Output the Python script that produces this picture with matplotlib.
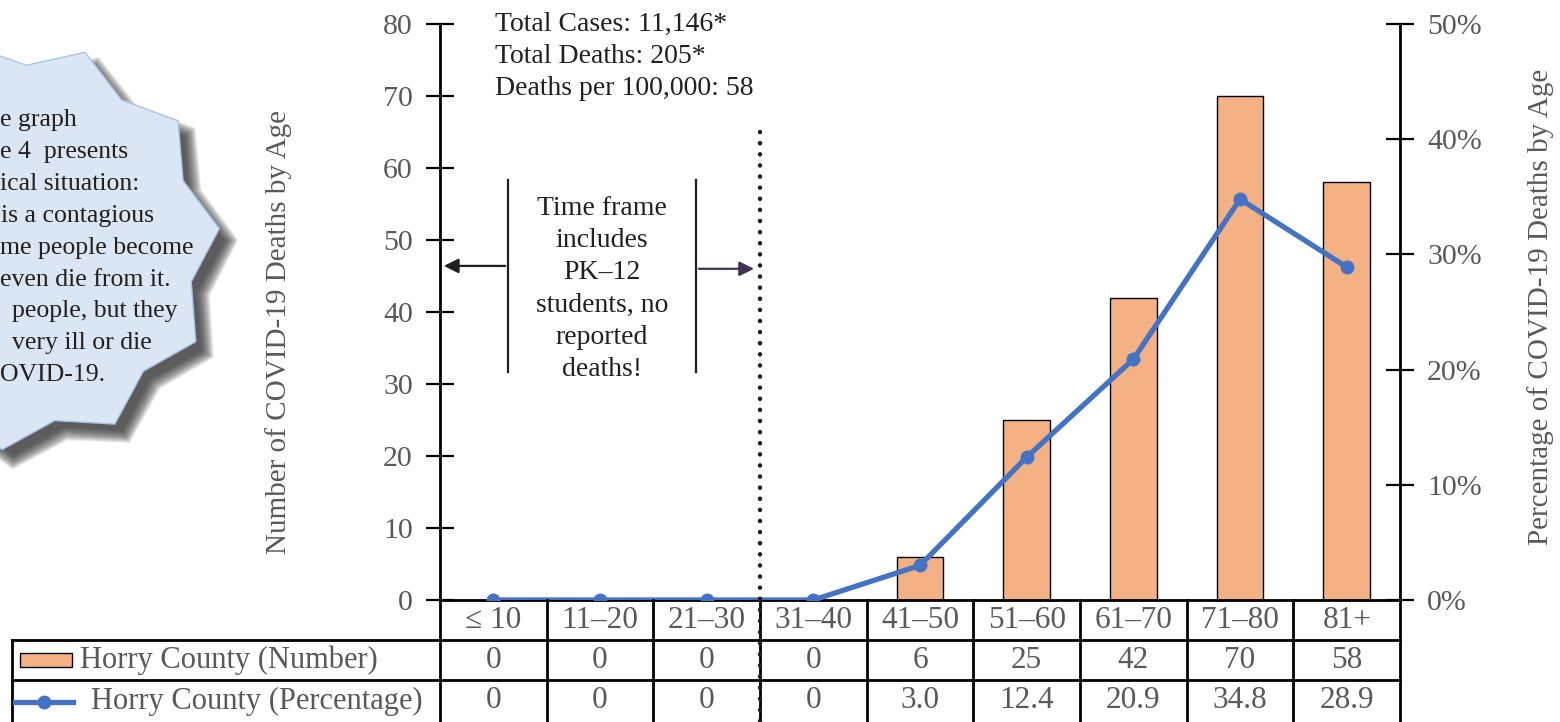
import numpy as np
import matplotlib.pyplot as plt
from matplotlib.patches import Polygon, Rectangle
from matplotlib.lines import Line2D
from matplotlib.transforms import blended_transform_factory

plt.rcParams['font.family'] = ['Liberation Serif', 'DejaVu Serif']

# data
ages = ['≤ 10', '11–20', '21–30', '31–40', '41–50', '51–60', '61–70', '71–80', '81+']
deaths = [0, 0, 0, 0, 6, 25, 42, 70, 58]
pct = [0, 0, 0, 0, 3.0, 12.4, 20.9, 34.8, 28.9]
pct_labels = ['0', '0', '0', '0', '3.0', '12.4', '20.9', '34.8', '28.9']
num_label = 'Horry County (Number)'
pct_label = 'Horry County (Percentage)'

bar_color = '#F4B183'
line_color = '#4472C4'
gray = '#595959'
ink = '#231F20'

W, H = 1560, 722
fig = plt.figure(figsize=(15.6, 7.22), dpi=100)


def fx(px):
    return px / W


def fy(py):
    return 1 - py / H


# callout burst on the left (partly off the page)
n = 11
ang = np.linspace(0, 2 * np.pi, 2 * n, endpoint=False) - 0.08
rad = np.where(np.arange(2 * n) % 2 == 0, 205, 180)
cx, cy = 15, 245
# soft shadow
for grow in range(-6, 9):
    r2 = rad + grow
    pts = np.column_stack([fx(cx + 11 + r2 * np.cos(ang)), fy(cy + 12 + r2 * np.sin(ang))])
    fig.patches.append(Polygon(pts, closed=True, transform=fig.transFigure,
                               facecolor='#2e2e2e', edgecolor='none', alpha=0.09, zorder=0))
sx = cx + rad * np.cos(ang)
sy = cy + rad * np.sin(ang)
fig.patches.append(Polygon(np.column_stack([fx(sx), fy(sy)]), closed=True,
                           transform=fig.transFigure, facecolor='#DAE6F4',
                           edgecolor='#A9C4E8', lw=1, zorder=1))

callout = [('e graph', 0), ('e 4  presents', 0), ('ical situation:', 0),
           ('is a contagious', 1), ('me people become', 0), ('even die from it.', 0),
           ('people, but they', 12), ('very ill or die', 12), ('OVID-19.', 0)]
for i, (s, x0) in enumerate(callout):
    fig.text(fx(x0), fy(120 + i * 31.9), s, fontsize=18.5, color=ink,
             ha='left', va='center', zorder=3)

# main axes
ax = fig.add_axes([fx(440), fy(600), fx(1400) - fx(440), fy(24) - fy(600)])
ax.set_facecolor('none')
x = np.arange(len(ages))
ax.bar(x, deaths, width=0.44, color=bar_color, edgecolor='black', linewidth=1, zorder=2)
ax.set_xlim(-0.5, len(ages) - 0.5)
ax.set_ylim(0, 80)
ax.set_yticks(range(0, 81, 10))
ax.set_xticks([])
for s in ['top', 'right']:
    ax.spines[s].set_visible(False)
for s in ['left', 'bottom']:
    ax.spines[s].set_linewidth(2)
ax.tick_params(axis='y', direction='inout', length=20, width=1.6,
               labelsize=21.5, labelcolor=gray, pad=9.5)
ax.set_ylabel('Number of COVID-19 Deaths by Age', fontsize=21, color=gray)
ax.yaxis.set_label_coords(-0.154, 0.465)

ax2 = ax.twinx()
ax2.plot(x, pct, color=line_color, lw=3.8, marker='o', ms=9, zorder=3)
ax2.set_ylim(0, 50)
ax2.set_yticks(range(0, 51, 10))
ax2.set_yticklabels([f'{v}%' for v in range(0, 51, 10)])
for s in ['top', 'left', 'bottom']:
    ax2.spines[s].set_visible(False)
ax2.spines['right'].set_linewidth(2)
ax2.tick_params(axis='y', direction='inout', length=20, width=1.6,
                labelsize=21.5, labelcolor=gray, pad=9.5)
ax2.set_ylabel('Percentage of COVID-19 Deaths by Age', fontsize=21, color=gray)
ax2.yaxis.set_label_coords(1.132, 0.509)

# annotations inside plot
fig.text(fx(495), fy(12), 'Total Cases: 11,146*\nTotal Deaths: 205*\nDeaths per 100,000: 58',
         fontsize=20, color=ink, ha='left', va='top', linespacing=1.36)

ax.plot([0.1375, 0.1375], [31.7, 58.3], color=ink, lw=1.6)
ax.plot([1.9, 1.9], [31.7, 58.3], color=ink, lw=1.6)
ax.annotate('', xy=(-0.49, 46.4), xytext=(0.1375, 46.4),
            arrowprops=dict(arrowstyle='-|>', color=ink, lw=1.6, mutation_scale=22))
ax.annotate('', xy=(2.47, 46.0), xytext=(1.9, 46.0),
            arrowprops=dict(arrowstyle='-|>', color='#403152', lw=1.6, mutation_scale=22))
ax.text(1.02, 43.2, 'Time frame\nincludes\nPK–12\nstudents, no\nreported\ndeaths!',
        fontsize=20, color=ink, ha='center', va='center', linespacing=1.38)

# table below the axes
bt = blended_transform_factory(ax.transData, fig.transFigure)
edges = np.arange(len(ages) + 1) - 0.5
lw_t = 2
for e in edges:
    fig.lines.append(Line2D([e, e], [fy(600), fy(722)], transform=bt, color='black', lw=lw_t))
x_right = ax.transData.transform((edges[-1], 0))[0] / W
for yy in [640, 680]:
    fig.lines.append(Line2D([fx(12), x_right], [fy(yy), fy(yy)], transform=fig.transFigure,
                            color='black', lw=lw_t))
fig.lines.append(Line2D([fx(12), fx(12)], [fy(640), fy(722)], transform=fig.transFigure,
                        color='black', lw=lw_t))

for i in range(len(ages)):
    fig.text(x[i], fy(620), ages[i], transform=bt, fontsize=22.5, color=gray,
             ha='center', va='center')
    fig.text(x[i], fy(660), str(deaths[i]), transform=bt, fontsize=22.5, color=gray,
             ha='center', va='center')
    fig.text(x[i], fy(701), pct_labels[i], transform=bt, fontsize=22.5, color=gray,
             ha='center', va='center')

# legend keys in the table
fig.patches.append(Rectangle((fx(20), fy(667)), fx(52), 14 / H, transform=fig.transFigure,
                             facecolor=bar_color, edgecolor='black', lw=1))
fig.text(fx(80), fy(660), num_label, fontsize=22, color=gray, ha='left', va='center')
fig.lines.append(Line2D([fx(15), fx(73)], [fy(702), fy(702)], transform=fig.transFigure,
                        color=line_color, lw=3.8))
fig.lines.append(Line2D([fx(44)], [fy(702)], transform=fig.transFigure, color=line_color,
                        marker='o', ms=9))
fig.text(fx(91), fy(701), pct_label, fontsize=22, color=gray, ha='left', va='center')

# dotted divider
fig.lines.append(Line2D([2.5, 2.5], [fy(132), fy(722)], transform=bt, color=ink,
                        lw=3.2, linestyle=(0, (0.05, 2.45)), dash_capstyle='round', zorder=5))

fig.savefig('out.png', dpi=100)
